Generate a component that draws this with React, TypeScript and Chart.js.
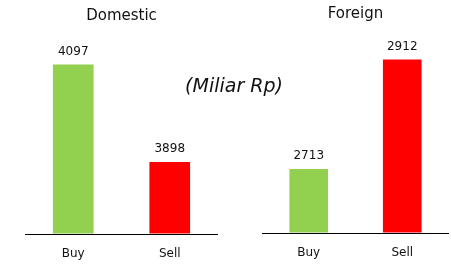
import React, { useEffect, useRef } from "react";
import { Chart, registerables } from "chart.js";

Chart.register(...registerables);

const categories = ["Buy", "Sell"];
const domesticValues = [4097, 3898];
const foreignValues = [2713, 2912];
const barColors = ["#92D050", "#FF0000"];
const domesticTitle = "Domestic";
const foreignTitle = "Foreign";
const unitLabel = "(Miliar Rp)";
const domesticRange = [3752, 4148];
const foreignRange = [2598, 2948];

const FONT = "'DejaVu Sans', Verdana, sans-serif";
const CANVAS_H = 280;

const valueLabelPlugin = {
  id: "valueLabels",
  afterDatasetsDraw(chart: any) {
    const ctx = chart.ctx;
    const meta = chart.getDatasetMeta(0);
    const data = chart.data.datasets[0].data;
    ctx.save();
    ctx.font = `12px ${FONT}`;
    ctx.fillStyle = "#111";
    ctx.textAlign = "center";
    ctx.textBaseline = "middle";
    meta.data.forEach((el: any, i: number) => {
      ctx.fillText(String(data[i]), el.x, el.y - 13);
    });
    const a = chart.chartArea;
    ctx.strokeStyle = "#000";
    ctx.lineWidth = 1;
    ctx.beginPath();
    ctx.moveTo(a.left, Math.round(a.bottom) + 0.5);
    ctx.lineTo(a.right, Math.round(a.bottom) + 0.5);
    ctx.stroke();
    ctx.restore();
  },
};

function makeConfig(
  title: string,
  values: number[],
  range: number[],
  pad: { l: number; r: number; top: number; tb: number; bottom: number },
  barW: number
): any {
  return {
    type: "bar",
    data: {
      labels: categories,
      datasets: [
        {
          data: values,
          backgroundColor: barColors,
          borderWidth: 0,
          barThickness: barW,
        },
      ],
    },
    options: {
      animation: false,
      responsive: false,
      maintainAspectRatio: false,
      layout: { padding: { left: pad.l, right: pad.r, top: 0, bottom: pad.bottom } },
      plugins: {
        legend: { display: false },
        tooltip: { enabled: false },
        title: {
          display: true,
          text: title,
          color: "#111",
          font: { family: FONT, size: 15, weight: "normal" },
          padding: { top: pad.top, bottom: pad.tb },
        },
      },
      scales: {
        x: {
          grid: { display: false, drawTicks: false },
          border: { display: false },
          ticks: {
            color: "#111",
            font: { family: FONT, size: 12 },
            padding: 13,
          },
        },
        y: {
          display: false,
          min: range[0],
          max: range[1],
        },
      },
    },
    plugins: [valueLabelPlugin],
  };
}

function ChartCanvas(props: {
  left: number;
  width: number;
  config: () => any;
}) {
  const ref = useRef<HTMLCanvasElement | null>(null);
  useEffect(() => {
    if (!ref.current) return;
    const chart = new Chart(ref.current, props.config());
    return () => chart.destroy();
  }, []);
  return (
    <canvas
      ref={ref}
      width={props.width}
      height={CANVAS_H}
      style={{ position: "absolute", left: props.left, top: 0, width: props.width, height: CANVAS_H }}
    />
  );
}

export default function App() {
  useEffect(() => {
    document.body.style.margin = "0";
  }, []);
  return (
    <div style={{ position: "relative", width: 451, height: 266, background: "#fff", overflow: "hidden" }}>
      <ChartCanvas
        left={0}
        width={243}
        config={() =>
          makeConfig(domesticTitle, domesticValues, domesticRange, { l: 25, r: 25, top: 7, tb: 15, bottom: 6 }, 40)
        }
      />
      <ChartCanvas
        left={260}
        width={191}
        config={() =>
          makeConfig(foreignTitle, foreignValues, foreignRange, { l: 2, r: 2, top: 5, tb: 17, bottom: 7 }, 38)
        }
      />
      <div
        style={{
          position: "absolute",
          left: 134,
          width: 200,
          top: 73,
          textAlign: "center",
          fontFamily: FONT,
          fontStyle: "italic",
          fontSize: 19,
          lineHeight: "24px",
          color: "#111",
        }}
      >
        {unitLabel}
      </div>
    </div>
  );
}
